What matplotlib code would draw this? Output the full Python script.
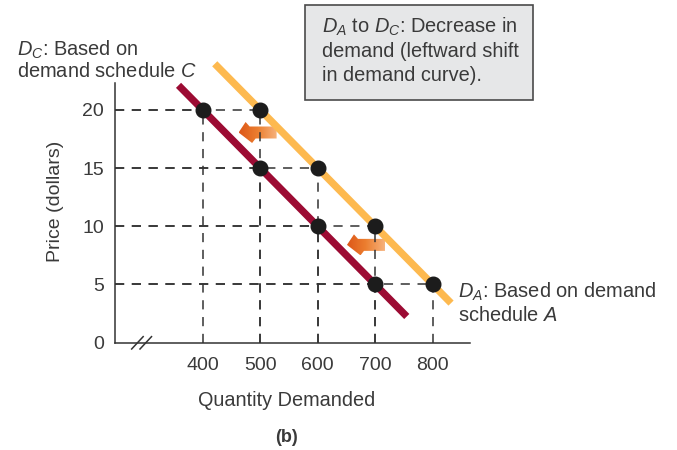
import numpy as np
import matplotlib
matplotlib.use("Agg")
import matplotlib.pyplot as plt
from matplotlib.patches import Polygon, Rectangle
from matplotlib.colors import LinearSegmentedColormap

plt.rcParams['font.family'] = ['Liberation Sans', 'DejaVu Sans']
plt.rcParams['mathtext.fontset'] = 'custom'
plt.rcParams['mathtext.rm'] = 'Liberation Sans'
plt.rcParams['mathtext.it'] = 'Liberation Sans:italic'

# Demand schedules C and A (quantity demanded at each price)
prices = [20, 15, 10, 5]
quantity_c = [400, 500, 600, 700]
quantity_a = [500, 600, 700, 800]
x_ticks = [400, 500, 600, 700, 800]
y_ticks = [0, 5, 10, 15, 20]

# Quantity range over which each demand curve is drawn
span_c = [358, 755]
span_a = [421, 832]

# Shift arrows: tip position (quantity, price)
shift_tips = [(462.5, 18.05), (651, 8.4)]

TEXT = '#3a3a3a'
AXIS = '#333333'
MAROON = '#9c0b33'
ORANGE = '#fdb94f'
FS = 14.4
W, H = 677, 450

fig = plt.figure(figsize=(W / 100, H / 100), dpi=100)
x0, y0, x1, y1 = 115, 342.7, 470, 83
ax = fig.add_axes([x0 / W, (H - y0) / H, (x1 - x0) / W, (y0 - y1) / H])
xmin, xmax = 247.5, 865
ymin, ymax = 0, 22.3
px_per_x = (x1 - x0) / (xmax - xmin)
px_per_y = (y0 - y1) / (ymax - ymin)


def fpos(x, y):
    return x / W, 1 - y / H


# Dashed guides from the axes to each schedule point
dash = dict(color=AXIS, lw=1.1, dashes=(6, 5), zorder=3)
for q, p in list(zip(quantity_c, prices)) + list(zip(quantity_a, prices)):
    ax.plot([xmin, q], [p, p], **dash)
    ax.plot([q, q], [0, p], **dash)

# Demand curves through each schedule
for qs, span, col in [(quantity_c, span_c, MAROON), (quantity_a, span_a, ORANGE)]:
    slope, icpt = np.polyfit(qs, prices, 1)
    xs = np.array(span, dtype=float)
    ax.plot(xs, slope * xs + icpt, color=col, lw=5.2, solid_capstyle='butt',
            zorder=4, clip_on=False)

ax.plot(quantity_c, prices, 'o', color='#1c1c1c', ms=10.5, zorder=5)
ax.plot(quantity_a, prices, 'o', color='#1c1c1c', ms=10.5, zorder=5)

# Leftward shift arrows with an orange gradient (outline in pixel offsets from the tip)
shape_px = [(0, 0), (7, -10.5), (11, -6), (38, -6), (38, 6), (17, 6), (13.5, 10.5)]
cmap = LinearSegmentedColormap.from_list('shift', ['#dd5718', '#ec7f30', '#f6b27c'])
grad = np.linspace(0, 1, 256).reshape(1, -1)
for tx, ty in shift_tips:
    pts = [(tx + dx / px_per_x, ty - dy / px_per_y) for dx, dy in shape_px]
    poly = Polygon(pts, closed=True, facecolor='none', edgecolor='none', zorder=2)
    ax.add_patch(poly)
    xs = [p[0] for p in pts]
    ys = [p[1] for p in pts]
    im = ax.imshow(grad, cmap=cmap, extent=[min(xs), max(xs), min(ys), max(ys)],
                   aspect='auto', zorder=2, interpolation='bilinear')
    im.set_clip_path(poly)

ax.set_xlim(xmin, xmax)
ax.set_ylim(ymin, ymax)
for s in ['top', 'right']:
    ax.spines[s].set_visible(False)
for s in ['left', 'bottom']:
    ax.spines[s].set_color(AXIS)
    ax.spines[s].set_linewidth(1.1)
ax.set_xticks(x_ticks)
ax.set_yticks(y_ticks)
ax.tick_params(axis='both', length=0, labelsize=14, labelcolor=TEXT)
ax.tick_params(axis='x', pad=10)
ax.tick_params(axis='y', pad=8)

# Axis break marks
for bx in [276.5, 291]:
    ax.plot([bx, bx + 20], [-0.54, 0.52], color=AXIS, lw=1.1, clip_on=False, zorder=6)

fig.text(*fpos(56, 201), 'Price (dollars)', rotation=90, ha='center', va='center',
         fontsize=14, color=TEXT)
fig.text(*fpos(287, 401), 'Quantity Demanded', ha='center', va='center',
         fontsize=14.3, color=TEXT)
fig.text(*fpos(287, 437), '(b)', ha='center', va='center', fontsize=13,
         fontweight='bold', color=TEXT)

fig.text(*fpos(17, 56), r'$D_C$: Based on', ha='left', va='baseline',
         fontsize=FS, color=TEXT)
fig.text(*fpos(17, 77), r'demand schedule $C$', ha='left', va='baseline',
         fontsize=FS, color=TEXT)
fig.text(*fpos(458, 298), r'$D_A$: Based on demand', ha='left', va='baseline',
         fontsize=FS, color=TEXT)
fig.text(*fpos(458, 321), r'schedule $A$', ha='left', va='baseline',
         fontsize=FS, color=TEXT)

bx0, by0 = fpos(305, 100)
bx1, by1 = fpos(533, 5)
fig.add_artist(Rectangle((bx0, by0), bx1 - bx0, by1 - by0, transform=fig.transFigure,
                         facecolor='#e6e7e8', edgecolor='#4a4a4a', lw=1.2))
for i, line in enumerate([r'$D_A$ to $D_C$: Decrease in',
                          'demand (leftward shift',
                          'in demand curve).']):
    fig.text(*fpos(322, 33 + 24 * i), line, ha='left', va='baseline',
             fontsize=FS, color=TEXT)

fig.savefig('out.png', dpi=100)
